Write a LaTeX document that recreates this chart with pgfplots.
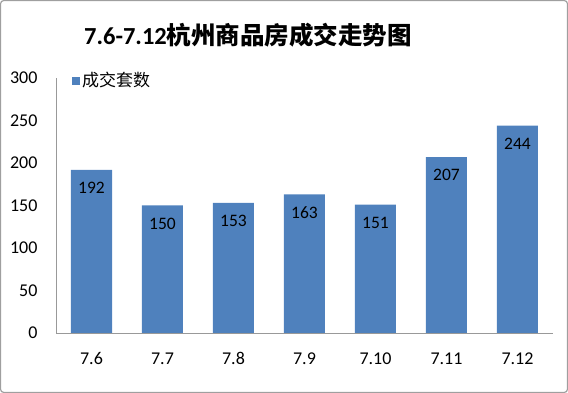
\documentclass[border=0pt]{standalone}
\usepackage{pgfplots}
\pgfplotsset{compat=1.18}
\usepackage{fontspec}
\setmainfont{Carlito}
\newfontfamily\cjk{Noto Sans CJK SC}
\definecolor{barblue}{HTML}{4F81BD}
\begin{document}
\begin{tikzpicture}[x=1pt,y=1pt]
\draw[gray!75, line width=1.2pt, rounded corners=3pt] (0.6,0.6) rectangle (567.4,392.4);
\node at (248,358) {\fontsize{24.5}{28}\selectfont\bfseries 7.6-7.12{\cjk\bfseries 杭州商品房成交走势图}};
\begin{axis}[
  at={(56pt,60pt)}, anchor=south west,
  scale only axis, width=497pt, height=255pt,
  ybar, bar width=41pt,
  xmin=-0.5, xmax=6.5, ymin=0, ymax=300,
  axis x line*=bottom, axis y line*=left,
  axis line style={gray!80, line width=0.8pt, -},
  xtick=data, xticklabels={7.6,7.7,7.8,7.9,7.10,7.11,7.12},
  ytick={0,50,...,300},
  major tick length=0pt,
  tick label style={font=\fontsize{18}{21}\selectfont, black},
  /pgf/number format/assume math mode=true,
  yticklabel style={xshift=-15pt},
  xticklabel style={yshift=-16pt},
  nodes near coords,
  every node near coord/.append style={font=\fontsize{17.5}{20}\selectfont, black, anchor=north, yshift=-9pt},
  legend style={at={(0.03,1.035)}, anchor=north west, draw=none, fill=none, font=\fontsize{17}{20}\selectfont\cjk, inner sep=1pt},
]
\addplot[fill=barblue, draw=none, legend image code/.code={\fill[barblue] (0pt,-4.5pt) rectangle (8pt,3.5pt);}] coordinates {(0,192) (1,150) (2,153) (3,163) (4,151) (5,207) (6,244)};
\addlegendentry{成交套数}
\end{axis}
\end{tikzpicture}
\end{document}
